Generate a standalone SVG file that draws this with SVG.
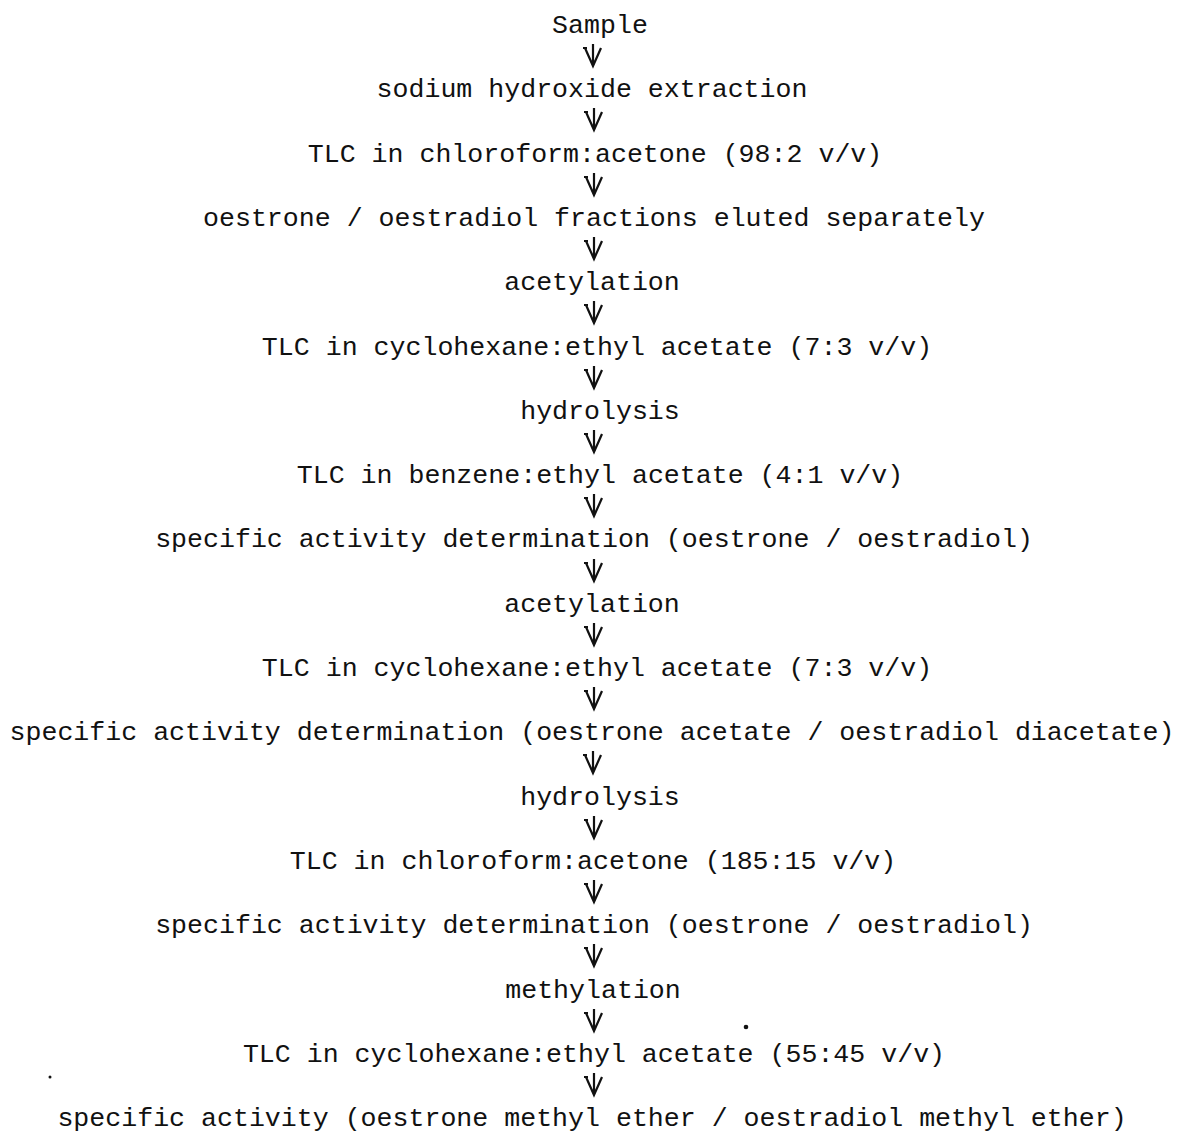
<svg xmlns="http://www.w3.org/2000/svg" xmlns:xlink="http://www.w3.org/1999/xlink" width="1183" height="1133" viewBox="0 0 1183 1133">
<style>
.t{font-family:"Liberation Mono","Courier New",monospace;font-size:26.6px;fill:#111;text-anchor:middle}
.a{fill:none;stroke:#111;stroke-width:2.2;stroke-linejoin:miter}
</style>
<defs>
<g id="arr"><path class="a" d="M0,0 V22 M-8,4 L0,22 L8,4 M-10,4 H-6"/></g>
</defs>
<rect width="1183" height="1133" fill="#fff"/>
<g id="connectors">
<use xlink:href="#arr" x="593" y="44"/>
<use xlink:href="#arr" x="594" y="108"/>
<use xlink:href="#arr" x="594" y="173"/>
<use xlink:href="#arr" x="594" y="237"/>
<use xlink:href="#arr" x="594" y="301"/>
<use xlink:href="#arr" x="594" y="366"/>
<use xlink:href="#arr" x="594" y="430"/>
<use xlink:href="#arr" x="594" y="494"/>
<use xlink:href="#arr" x="594" y="559"/>
<use xlink:href="#arr" x="594" y="623"/>
<use xlink:href="#arr" x="594" y="687"/>
<use xlink:href="#arr" x="593" y="751"/>
<use xlink:href="#arr" x="594" y="816"/>
<use xlink:href="#arr" x="594" y="880"/>
<use xlink:href="#arr" x="594" y="944"/>
<use xlink:href="#arr" x="594" y="1009"/>
<use xlink:href="#arr" x="594" y="1073"/>
</g>
<g id="n1"><text class="t" x="600" y="33">Sample</text></g>
<g id="n2"><text class="t" x="592" y="97">sodium hydroxide extraction</text></g>
<g id="n3"><text class="t" x="595" y="162">TLC in chloroform:acetone (98:2 v/v)</text></g>
<g id="n4"><text class="t" x="594" y="226">oestrone / oestradiol fractions eluted separately</text></g>
<g id="n5"><text class="t" x="592" y="290">acetylation</text></g>
<g id="n6"><text class="t" x="597" y="355">TLC in cyclohexane:ethyl acetate (7:3 v/v)</text></g>
<g id="n7"><text class="t" x="600" y="419">hydrolysis</text></g>
<g id="n8"><text class="t" x="600" y="483">TLC in benzene:ethyl acetate (4:1 v/v)</text></g>
<g id="n9"><text class="t" x="594" y="547">specific activity determination (oestrone / oestradiol)</text></g>
<g id="n10"><text class="t" x="592" y="612">acetylation</text></g>
<g id="n11"><text class="t" x="597" y="676">TLC in cyclohexane:ethyl acetate (7:3 v/v)</text></g>
<g id="n12"><text class="t" x="592" y="740">specific activity determination (oestrone acetate / oestradiol diacetate)</text></g>
<g id="n13"><text class="t" x="600" y="805">hydrolysis</text></g>
<g id="n14"><text class="t" x="593" y="869">TLC in chloroform:acetone (185:15 v/v)</text></g>
<g id="n15"><text class="t" x="594" y="933">specific activity determination (oestrone / oestradiol)</text></g>
<g id="n16"><text class="t" x="593" y="998">methylation</text></g>
<g id="n17"><text class="t" x="594" y="1062">TLC in cyclohexane:ethyl acetate (55:45 v/v)</text></g>
<g id="n18"><text class="t" x="592" y="1126">specific activity (oestrone methyl ether / oestradiol methyl ether)</text></g>
<circle cx="746" cy="1027" r="2.3" fill="#111"/>
<circle cx="50" cy="1077" r="1.5" fill="#111"/>
</svg>
